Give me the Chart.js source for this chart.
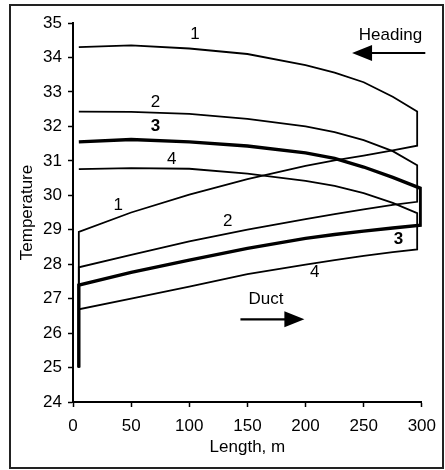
<!DOCTYPE html>
<html>
<head>
<meta charset="utf-8">
<script src="https://cdn.jsdelivr.net/npm/chart.js@4/dist/chart.umd.min.js"></script>
<style>
  html, body { margin: 0; padding: 0; background: #fff; }
  #wrap { position: relative; width: 445px; height: 470px; }
</style>
</head>
<body>
<div id="wrap"><canvas id="tempChart"></canvas></div>
<script>
// Length points along the working (m); last point of each loop is in endLength
const lengths = [5, 50, 100, 150, 200, 225, 250, 275];
const endLength = [296, 296, 299, 296];
const bottomTemp = 25;

// Heading air temperature, one value per length + one at endLength
const heading1 = [34.30, 34.35, 34.26, 34.10, 33.78, 33.56, 33.28, 32.86, 32.43];
const heading2 = [32.43, 32.42, 32.36, 32.22, 32.00, 31.83, 31.60, 31.28, 30.87];
const heading3 = [31.55, 31.62, 31.55, 31.43, 31.23, 31.07, 30.82, 30.52, 30.20];
const heading4 = [30.76, 30.79, 30.77, 30.63, 30.42, 30.27, 30.06, 29.78, 29.48];

// Duct air temperature
const duct1 = [28.94, 29.50, 30.02, 30.47, 30.85, 31.01, 31.15, 31.30, 31.44];
const duct2 = [27.91, 28.27, 28.66, 29.00, 29.31, 29.45, 29.59, 29.72, 29.81];
const duct3 = [27.39, 27.76, 28.12, 28.46, 28.75, 28.86, 28.96, 29.05, 29.13];
const duct4 = [26.69, 27.00, 27.35, 27.71, 27.99, 28.12, 28.24, 28.35, 28.43];

const xTicks = [0, 50, 100, 150, 200, 250, 300];
const yTicks = [24, 25, 26, 27, 28, 29, 30, 31, 32, 33, 34, 35];

// Build one closed path per case: heading out, down at the face, duct back, down to 25
function loopPoints(heading, duct, idx) {
    const xs = lengths.concat([endLength[idx]]);
    const pts = xs.map((x, i) => ({ x: x, y: heading[i] }));
    for (let i = xs.length - 1; i >= 0; i--) pts.push({ x: xs[i], y: duct[i] });
    pts.push({ x: lengths[0], y: bottomTemp });
    return pts;
}

const FONT = "'Liberation Sans', Arial, sans-serif";

// Curve numbers and flow arrows, placed in data units
const curveLabels = [
    { t: '1', x: 105, y: 34.66 }, { t: '2', x: 71, y: 32.71 },
    { t: '3', x: 71, y: 31.99, bold: true }, { t: '4', x: 85, y: 31.05 },
    { t: '1', x: 39, y: 29.70 }, { t: '2', x: 133, y: 29.23 },
    { t: '3', x: 280, y: 28.72, bold: true }, { t: '4', x: 208, y: 27.76 }
];

const annotations = {
    id: 'annotations',
    afterDatasetsDraw(chart) {
        const { ctx, scales: { x, y } } = chart;
        ctx.save();
        ctx.fillStyle = '#000';
        ctx.strokeStyle = '#000';
        ctx.textAlign = 'center';
        ctx.textBaseline = 'middle';
        curveLabels.forEach(l => {
            ctx.font = (l.bold ? 'bold ' : '') + '17px ' + FONT;
            ctx.fillText(l.t, x.getPixelForValue(l.x), y.getPixelForValue(l.y));
        });
        ctx.font = '17px ' + FONT;
        ctx.fillText('Heading', x.getPixelForValue(273), y.getPixelForValue(34.64));
        ctx.fillText('Duct', x.getPixelForValue(166), y.getPixelForValue(26.99));

        // arrows
        const arrow = (x0, x1, yv) => {
            const py = y.getPixelForValue(yv);
            const p0 = x.getPixelForValue(x0), p1 = x.getPixelForValue(x1);
            const dir = Math.sign(p1 - p0);
            ctx.lineWidth = 2.2;
            ctx.beginPath();
            ctx.moveTo(p0, py);
            ctx.lineTo(p1 - dir * 10, py);
            ctx.stroke();
            ctx.beginPath();
            ctx.moveTo(p1, py);
            ctx.lineTo(p1 - dir * 20, py - 8);
            ctx.lineTo(p1 - dir * 20, py + 8);
            ctx.closePath();
            ctx.fill();
        };
        arrow(303, 240, 34.13);
        arrow(144, 199, 26.4);

        // scanned page frame
        ctx.lineWidth = 2;
        ctx.strokeStyle = '#222';
        ctx.strokeRect(10, 5, 433, 463);
        ctx.restore();
    }
};

const loops = [
    loopPoints(heading1, duct1, 0),
    loopPoints(heading2, duct2, 1),
    loopPoints(heading3, duct3, 2),
    loopPoints(heading4, duct4, 3)
];

new Chart(document.getElementById('tempChart'), {
    type: 'scatter',
    data: {
        datasets: loops.map((pts, i) => ({
            label: 'Case ' + (i + 1),
            data: pts,
            showLine: true,
            borderColor: '#000',
            borderWidth: i === 2 ? 3.4 : 1.8,
            pointRadius: 0,
            tension: 0,
            fill: false
        }))
    },
    options: {
        responsive: true,
        maintainAspectRatio: false,
        animation: false,
        layout: { padding: { left: 0, top: 23, right: 17, bottom: 0 } },
        plugins: {
            legend: { display: false },
            tooltip: { enabled: false }
        },
        scales: {
            x: {
                type: 'linear',
                min: 0,
                max: 300,
                afterBuildTicks: s => { s.ticks = xTicks.map(v => ({ value: v })); },
                afterFit: s => { s.height = 68; },
                grid: { drawOnChartArea: false, drawTicks: true, tickLength: 5, color: '#000', tickWidth: 1.5 },
                border: { display: true, color: '#000', width: 2 },
                ticks: { color: '#000', padding: 9, maxRotation: 0, font: { family: FONT, size: 17 } },
                title: { display: true, text: 'Length, m', color: '#000', padding: { bottom: 12 }, font: { family: FONT, size: 17 } }
            },
            y: {
                type: 'linear',
                min: 24,
                max: 35,
                afterBuildTicks: s => { s.ticks = yTicks.map(v => ({ value: v })); },
                afterFit: s => { s.width = 73; },
                grid: { drawOnChartArea: false, drawTicks: true, tickLength: 5, color: '#000', tickWidth: 1.5 },
                border: { display: true, color: '#000', width: 2 },
                ticks: { color: '#000', padding: 6, font: { family: FONT, size: 17 } },
                title: { display: true, text: 'Temperature', color: '#000', padding: { top: 17 }, font: { family: FONT, size: 17 } }
            }
        }
    },
    plugins: [annotations]
});
</script>
</body>
</html>
